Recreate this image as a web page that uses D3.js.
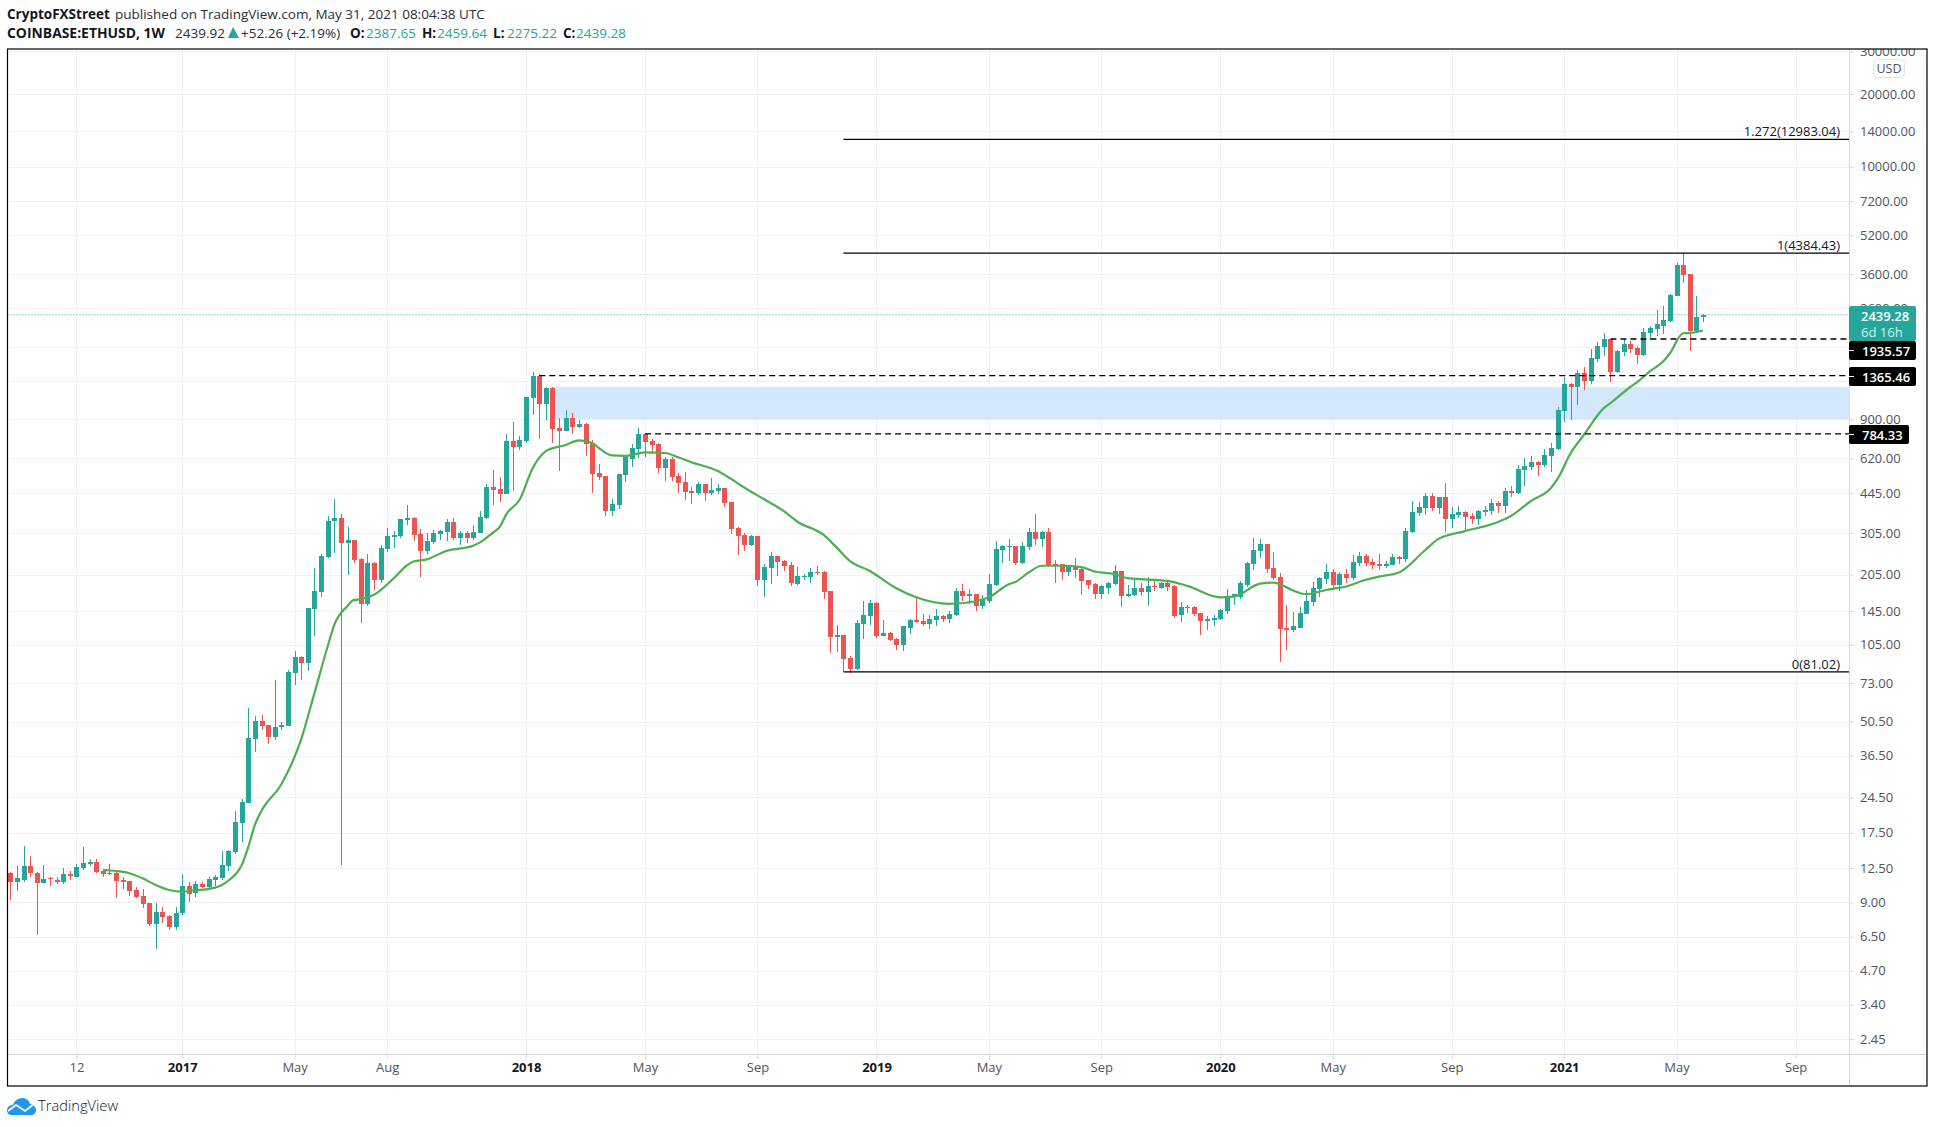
<!DOCTYPE html>
<html>
<head>
<meta charset="utf-8">
<title>COINBASE:ETHUSD, 1W</title>
<script src="https://cdn.jsdelivr.net/npm/d3@7"></script>
<style>
  html, body { margin: 0; padding: 0; background: white; }
  svg { display: block; }
  text { font-family: "Open Sans", "Noto Sans", sans-serif; }
</style>
</head>
<body>
<svg class="canvas"></svg>
<script>
//weekly candles, one entry per week, oldest first
let weekOpen = [
  11.96,10.97,11.15,12.75,11.93,10.87,11.33,11.15,10.97,11.81,
  11.47,12.5,13.03,13.25,12.19,11.9,11.93,11.15,11.03,10.14,
  9.57,8.95,7.3,8.22,7.9,7.1,8.14,10.53,9.85,10.73,
  10.43,11.15,11.37,12.75,14.57,19.2,23.2,42.8,50.8,48.9,
  43.6,47.9,48.4,80.2,93.5,88.2,148,174,242,342,
  352,277,285,237,155,229,195,261,293,296,
  345,352,302,256,279,302,307,339,290,304,
  290,304,352,472,463,442,733,692,733,1103,
  1362,1042,1213,829,805,911,837,861,718,540,
  524,375,397,530,617,679,783,733,711,566,
  617,524,495,455,445,485,445,455,468,409,
  319,299,271,296,195,218,244,233,224,187,
  200,200,210,210,175,113,115,92.7,83.4,128,
  138,156,114,117,111,105,123,133,132,128,
  133,138,134,139,175,167,170,152,159,185,
  259,266,269,229,266,307,288,307,226,226,
  210,222,216,195,187,170,181,187,212,167,
  169,181,174,184,181,189,184,139,151,151,
  142,132,133,134,145,165,165,185,226,256,
  274,218,200,123,121,123,141,158,179,197,
  210,185,206,199,229,244,231,226,222,224,
  242,237,307,369,386,433,386,429,348,362,
  372,359,348,372,376,405,394,455,445,555,
  571,600,583,635,679,974,1260,1224,1400,1297,
  1600,1795,1935,1414,1710,1848,1778,1665,2050,2130,
  2200,2300,2917,3920,3600,2090,2387.65
];
let weekHigh = [
  12.07,12.75,15.45,14.0,12.07,12.87,11.44,11.44,12.5,12.15,
  12.99,15.3,13.63,13.63,12.39,12.99,12.27,11.47,11.03,10.43,
  10.24,8.95,8.95,8.63,7.98,8.63,11.81,10.94,11.03,10.94,
  11.47,11.7,14.7,14.85,21.5,24.1,57.5,53.3,53.8,48.9,
  75.1,50.3,82.6,99,94.4,149,218,249,359,421,
  366,323,285,240,249,231,271,319,310,348,
  397,355,316,304,313,313,348,352,310,310,
  328,376,485,555,520,780,877,769,1113,1414,
  1390,1224,1224,911,984,957,894,870,739,588,
  524,421,534,642,711,829,790,746,718,629,
  629,540,545,472,495,485,515,485,468,409,
  323,304,299,296,226,254,244,235,231,220,
  206,218,222,212,175,127,115,94.5,133,159,
  161,158,133,119,112,126,134,165,141,139,
  148,139,145,181,187,179,170,169,206,282,
  271,288,269,279,319,366,310,319,235,226,
  224,240,222,195,189,185,191,224,212,185,
  199,189,200,195,191,191,185,158,154,152,
  142,138,139,148,179,170,193,231,290,288,
  274,254,208,154,143,151,177,191,200,226,
  216,210,216,247,254,249,237,249,233,249,
  244,319,413,409,445,445,429,490,390,394,
  376,369,379,394,421,413,468,477,583,623,
  635,606,679,718,1012,1345,1272,1440,1482,1760,
  1885,2050,1935,1743,1935,1900,1812,2150,2200,2552,
  2650,2972,3995,4384.43,3600,2917,2459.64
];
let weekLow = [
  9.2,10.05,10.97,11.5,6.6,10.87,10.53,10.73,10.77,11.15,
  11.47,12.27,12.75,11.93,11.47,11.7,9.38,10.24,9.57,9.38,
  8.54,7.18,5.77,7.38,6.92,6.92,7.98,9.03,9.47,10.33,
  10.24,10.53,11.15,12.15,14.3,16.05,23.2,37.8,46.6,40.8,
  42.4,46.6,48.4,71.6,75.1,81.8,114,165,240,252,
  12.9,204,229,129,152,177,189,254,264,290,
  328,282,200,249,274,285,282,285,271,277,
  285,304,348,397,409,440,455,672,718,938,
  746,894,718,551,805,783,829,635,445,505,
  359,359,382,495,571,623,629,654,540,500,
  500,445,417,401,437,413,437,441,390,302,
  247,256,269,184,165,187,202,212,184,185,
  195,189,204,163,97.4,98.2,81.02,80,82.6,111,
  127,112,114,109,100,99,116,129,125,122,
  126,131,129,138,159,155,145,148,156,184,
  229,233,224,226,259,271,266,220,189,195,
  202,199,169,179,163,163,171,185,151,165,
  167,167,152,175,179,175,136,131,142,138,
  115,121,125,133,141,154,163,182,214,240,
  208,195,89,100,119,123,141,152,165,187,
  177,175,189,195,222,222,216,214,218,224,
  226,231,304,359,362,375,366,307,319,352,
  310,332,328,359,362,369,369,429,441,477,
  555,524,571,545,672,877,894,1032,1190,1260,
  1555,1640,1285,1400,1640,1695,1525,1650,1917,1995,
  2030,2275,2917,3300,1726,2070,2275.22
];
let weekClose = [
  10.97,11.37,12.75,11.96,10.87,11.25,11.22,10.97,11.81,11.62,
  12.63,13.12,13.25,12.07,11.81,11.81,11.03,10.94,10.05,9.47,
  8.87,7.3,8.22,7.83,7.1,8.14,10.53,9.75,10.73,10.43,
  11.25,11.47,12.87,14.7,19.4,23.45,43.2,50.8,48.4,43.6,
  47.9,48.9,81,93.5,88.2,149,175,244,342,352,
  277,285,235,155,229,195,264,296,299,348,
  352,299,256,282,304,310,339,290,304,290,
  307,355,472,459,442,733,692,739,1113,1362,
  1042,1213,821,805,911,837,861,711,534,519,
  375,401,534,629,685,783,725,705,566,617,
  519,490,450,445,485,445,459,468,405,316,
  296,271,296,195,220,244,231,222,189,202,
  202,210,208,174,113,115,91.8,83.4,129,139,
  156,114,117,110,105,125,133,131,128,134,
  138,134,141,175,167,170,152,161,187,261,
  269,269,229,269,307,288,307,222,224,210,
  224,214,193,185,170,183,189,212,167,170,
  181,174,184,182,189,182,138,151,149,141,
  132,134,135,146,167,170,189,229,259,274,
  216,199,122,121,125,142,159,181,199,210,
  185,206,199,231,244,229,224,222,226,242,
  237,310,372,390,433,386,429,348,366,372,
  355,348,376,379,405,394,455,445,561,577,
  600,583,642,685,984,1260,1224,1400,1297,1615,
  1812,1935,1414,1726,1848,1760,1665,2070,2150,2240,
  2320,2944,3920,3566,2090,2386,2439.28
];

//green moving average at these week numbers
let maWeek = [15,17,19,21,23,25,27,28,31,33,34,36,37,38,39,42,45,47,49,50,52,53,54,56,59,61,62,64,67,71,72,74,75,76,78,80,82,85,87,89,90,92,94,97,100,102,104,108,110,112,115,118,120,124,126,128,131,135,138,143,147,149,152,153,155,157,160,163,165,168,170,176,179,184,186,190,192,193,195,197,200,203,206,208,211,215,217,221,226,228,231,234,235,237,239,242,243,246,247,249,251,252,254,255,257];
let maValue = [12.27,12.15,11.9,11.33,10.63,10.14,9.98,10.05,10.24,10.63,11.1,12.87,15.3,18.9,21.6,27.8,42.7,66.2,103.5,127,152,161,162,169,198,224,232,237,257,270,278,306,322,364,417,565,665,705,736,718,685,638,635,657,653,627,598,550,510,470,420,375,340,299,265,233,212,180,165,155,159,165,187,191,209,223,223,220,211,206,198,193,184,165,166,188,190,187,176,170,177,183,195,201,209,259,288,310,338,359,414,468,510,653,777,1002,1050,1225,1280,1425,1565,1690,2045,2050,2100];

//axes
let priceTicks = [30000,20000,14000,10000,7200,5200,3600,2600,1800,1300,900,620,445,305,205,145,105,73,50.5,36.5,24.5,17.5,12.5,9,6.5,4.7,3.4,2.45];
let hiddenPriceLabels = [1800,1300]; //fully behind the price tags in the picture
let timeTickWeek = [11,27,44,58,79,97,114,132,149,166,184,201,219,236,253,271];
let timeTickLabel = ["12","2017","May","Aug","2018","May","Sep","2019","May","Sep","2020","May","Sep","2021","May","Sep"];

//drawn levels
let fibPrice = [12983.04,4384.43,81.02];
let fibLabel = ["1.272(12983.04)","1(4384.43)","0(81.02)"];
let fibStartWeek = 127;
let dashPrice = [1935.57,1365.46,784.33];
let dashStartWeek = [243,81,97];
let dashTagTop = [341,367,425];
let dashTagWidth = [67,67,60];
let zoneHigh = 1224;
let zoneLow = 900;
let zoneStartWeek = 83;
let lastPrice = 2439.28;

//params
let width = 1935;
let height = 1127;
let left = 7.5;
let right = 1927;
let top_ = 49;
let bottom = 1086;
let axis_x = 1849;
let axis_y = 1054;
let up_color = "#26a69a";
let down_color = "#ef5350";
let grid_color = "#f0f1f4";
let axis_color = "#d6d8de";
let label_color = "#50535e";
let ink = "#131722";
//----------

let weeks = weekOpen.map(function(o, i) {
    return {week: i+1, open: o, high: weekHigh[i], low: weekLow[i], close: weekClose[i]};
});

let x = d3.scaleLinear().domain([1, 257]).range([10.3, 1703]);
let y = d3.scaleLog().domain([2.45, 20000]).range([1039, 94]);

let svg = d3.select(".canvas")
    .attr("width", width)
    .attr("height", height)
    .style("background", "white");

svg.append("clipPath").attr("id", "frame")
    .append("rect")
    .attr("x", left).attr("y", top_)
    .attr("width", right-left).attr("height", bottom-top_);

grid();
zone();
candles();
movingAverage();
levels();
yAxis();
xAxis();
tags();
frame();
header();
logo();

function grid() {
    svg.selectAll(".hgrid").data(priceTicks).enter()
        .append("line").attr("class", "hgrid")
        .attr("x1", left).attr("x2", axis_x)
        .attr("y1", function(d) {return Math.round(y(d))+.5})
        .attr("y2", function(d) {return Math.round(y(d))+.5})
        .attr("stroke", grid_color)
        .attr("clip-path", "url(#frame)");
    svg.selectAll(".vgrid").data(timeTickWeek).enter()
        .append("line").attr("class", "vgrid")
        .attr("y1", top_).attr("y2", axis_y)
        .attr("x1", function(d) {return Math.round(x(d))+.5})
        .attr("x2", function(d) {return Math.round(x(d))+.5})
        .attr("stroke", grid_color);
}

function zone() {
    svg.append("rect")
        .attr("x", x(zoneStartWeek))
        .attr("y", y(zoneHigh))
        .attr("width", axis_x-x(zoneStartWeek))
        .attr("height", y(zoneLow)-y(zoneHigh))
        .attr("fill", "#d4e8fd");
}

function candles() {
    let g = svg.append("g").attr("shape-rendering", "crispEdges");
    function colorOf(d) {return d.close >= d.open ? up_color : down_color}

    g.selectAll(".wick").data(weeks).enter()
        .append("line").attr("class", "wick")
        .attr("x1", function(d) {return Math.round(x(d.week))+.5})
        .attr("x2", function(d) {return Math.round(x(d.week))+.5})
        .attr("y1", function(d) {return y(d.high)})
        .attr("y2", function(d) {return y(d.low)})
        .attr("stroke", colorOf);

    g.selectAll(".body").data(weeks).enter()
        .append("rect").attr("class", "body")
        .attr("x", function(d) {return Math.round(x(d.week))-2})
        .attr("width", 5)
        .attr("y", function(d) {return y(Math.max(d.open, d.close))})
        .attr("height", function(d) {return Math.max(1, Math.abs(y(d.open)-y(d.close)))})
        .attr("fill", colorOf);
}

function movingAverage() {
    let line = d3.line()
        .x(function(d, i) {return x(maWeek[i])})
        .y(function(d) {return y(d)})
        .curve(d3.curveMonotoneX);
    svg.append("path")
        .attr("d", line(maValue))
        .attr("fill", "none")
        .attr("stroke", "#4caf50")
        .attr("stroke-width", 2.2);
}

function levels() {
    //dotted last price line
    svg.append("line")
        .attr("x1", left).attr("x2", axis_x)
        .attr("y1", y(lastPrice)).attr("y2", y(lastPrice))
        .attr("stroke", up_color)
        .attr("stroke-dasharray", "1 2");

    fibPrice.forEach(function(p, i) {
        svg.append("line")
            .attr("x1", x(fibStartWeek)).attr("x2", axis_x)
            .attr("y1", y(p)).attr("y2", y(p))
            .attr("stroke", "#000").attr("stroke-width", 1.3);
        svg.append("text")
            .attr("x", 1840).attr("y", y(p)-3)
            .attr("text-anchor", "end")
            .attr("font-size", 13)
            .attr("fill", ink)
            .text(fibLabel[i]);
    });

    dashPrice.forEach(function(p, i) {
        svg.append("line")
            .attr("x1", x(dashStartWeek[i])).attr("x2", axis_x)
            .attr("y1", y(p)).attr("y2", y(p))
            .attr("stroke", "#000").attr("stroke-width", 1.3)
            .attr("stroke-dasharray", "6 4");
    });
}

function yAxis() {
    let axis = d3.axisRight(y)
        .tickValues(priceTicks)
        .tickSize(5)
        .tickPadding(6)
        .tickFormat(function(d) {return hiddenPriceLabels.includes(d) ? "" : d.toFixed(2)});
    let g = svg.append("g")
        .attr("transform", "translate(" + axis_x + ",0)")
        .attr("clip-path", "url(#axisclip)")
        .call(axis);
    svg.append("clipPath").attr("id", "axisclip")
        .append("rect")
        .attr("x", 0).attr("y", top_)
        .attr("width", right-axis_x).attr("height", bottom-top_);
    g.select(".domain").remove();
    g.selectAll("line").attr("stroke", axis_color);
    g.selectAll("text")
        .attr("font-size", 13)
        .attr("font-family", '"Open Sans", sans-serif')
        .attr("fill", label_color);

    //currency button
    svg.append("rect")
        .attr("x", 1873.5).attr("y", 59.5)
        .attr("width", 31).attr("height", 18).attr("rx", 4)
        .attr("fill", "white").attr("stroke", "#e0e3eb");
    svg.append("text")
        .attr("x", 1889).attr("y", 73)
        .attr("text-anchor", "middle")
        .attr("font-size", 12.5)
        .attr("fill", label_color)
        .text("USD");
}

function xAxis() {
    let axis = d3.axisBottom(x)
        .tickValues(timeTickWeek)
        .tickSize(5)
        .tickPadding(4)
        .tickFormat(function(d, i) {return timeTickLabel[i]});
    let g = svg.append("g")
        .attr("transform", "translate(0," + axis_y + ")")
        .call(axis);
    g.select(".domain").remove();
    g.selectAll("line").attr("stroke", axis_color);
    g.selectAll("text")
        .attr("font-size", 13)
        .attr("font-family", '"Open Sans", sans-serif')
        .attr("fill", function(d, i) {return /^\d{4}$/.test(timeTickLabel[i]) ? ink : label_color})
        .attr("font-weight", function(d, i) {return /^\d{4}$/.test(timeTickLabel[i]) ? "bold" : "normal"});
    svg.append("line")
        .attr("x1", left).attr("x2", right)
        .attr("y1", axis_y+.5).attr("y2", axis_y+.5)
        .attr("stroke", axis_color);
    svg.append("line")
        .attr("x1", axis_x+.5).attr("x2", axis_x+.5)
        .attr("y1", top_).attr("y2", bottom)
        .attr("stroke", axis_color);
}

function tags() {
    //last price tag with countdown
    svg.append("rect")
        .attr("x", axis_x).attr("y", 306)
        .attr("width", 67).attr("height", 35).attr("rx", 2)
        .attr("fill", up_color);
    svg.append("text")
        .attr("x", 1861).attr("y", 320.5)
        .attr("font-size", 13).attr("font-weight", 600)
        .attr("fill", "white")
        .text(lastPrice.toFixed(2));
    svg.append("text")
        .attr("x", 1861).attr("y", 337)
        .attr("font-size", 13)
        .attr("fill", "#d4f0ec")
        .text("6d 16h");

    dashPrice.forEach(function(p, i) {
        svg.append("rect")
            .attr("x", axis_x).attr("y", dashTagTop[i])
            .attr("width", dashTagWidth[i]).attr("height", 19).attr("rx", 2)
            .attr("fill", "#000");
        svg.append("line")
            .attr("x1", axis_x).attr("x2", axis_x+5)
            .attr("y1", dashTagTop[i]+9.5).attr("y2", dashTagTop[i]+9.5)
            .attr("stroke", "#fff");
        svg.append("text")
            .attr("x", 1862).attr("y", dashTagTop[i]+14.5)
            .attr("font-size", 13).attr("font-weight", 600)
            .attr("fill", "white")
            .text(p.toFixed(2));
    });
}

function frame() {
    svg.append("rect")
        .attr("x", left).attr("y", top_)
        .attr("width", right-left).attr("height", bottom-top_)
        .attr("fill", "none")
        .attr("stroke", "#000").attr("stroke-width", 1.2);
}

function header() {
    printText(7, 19, 13.5, "CryptoFXStreet", ink, "bold");
    printText(115, 19, 13.5, "published on TradingView.com, May 31, 2021 08:04:38 UTC", "#2a2e39", "normal");
    printText(7, 38, 13.9, "COINBASE:ETHUSD, 1W", ink, "bold");
    printText(175, 38, 13.5, "2439.92", "#2a2e39", "normal");
    svg.append("path")
        .attr("d", "M228,38 L233,27 L239,38 Z")
        .attr("fill", up_color);
    printText(241, 38, 13.5, "+52.26 (+2.19%)", "#2a2e39", "normal");
    printText(350, 38, 13.5, "O:", ink, "bold");
    printText(366, 38, 13.5, "2387.65", up_color, "normal");
    printText(422, 38, 13.5, "H:", ink, "bold");
    printText(437, 38, 13.5, "2459.64", up_color, "normal");
    printText(493, 38, 13.5, "L:", ink, "bold");
    printText(507, 38, 13.5, "2275.22", up_color, "normal");
    printText(563, 38, 13.5, "C:", ink, "bold");
    printText(576, 38, 13.5, "2439.28", up_color, "normal");
}

function printText(tx, ty, size, label, color, weight) {
    svg.append("text")
        .attr("x", tx).attr("y", ty)
        .attr("font-size", size)
        .attr("font-weight", weight)
        .attr("fill", color)
        .text(label);
}

function logo() {
    let g = svg.append("g").attr("transform", "translate(7,1098)");
    g.append("path")
        .attr("d", "M4,17 C1,17 0,14 0,12 C0,9 3,7 6,7 C7,3 11,0 15,0 C19,0 22,2 23,6 C26,6 29,9 29,12 C29,15 27,17 24,17 Z")
        .attr("fill", "#2196f3");
    g.append("path")
        .attr("d", "M1,13 L9,7 L18,13 L27,6")
        .attr("fill", "none")
        .attr("stroke", "white").attr("stroke-width", 1.6);
    svg.append("text")
        .attr("x", 38).attr("y", 1111)
        .attr("font-size", 14.7)
        .attr("font-weight", 300)
        .attr("fill", ink)
        .text("TradingView");
}
</script>
</body>
</html>
